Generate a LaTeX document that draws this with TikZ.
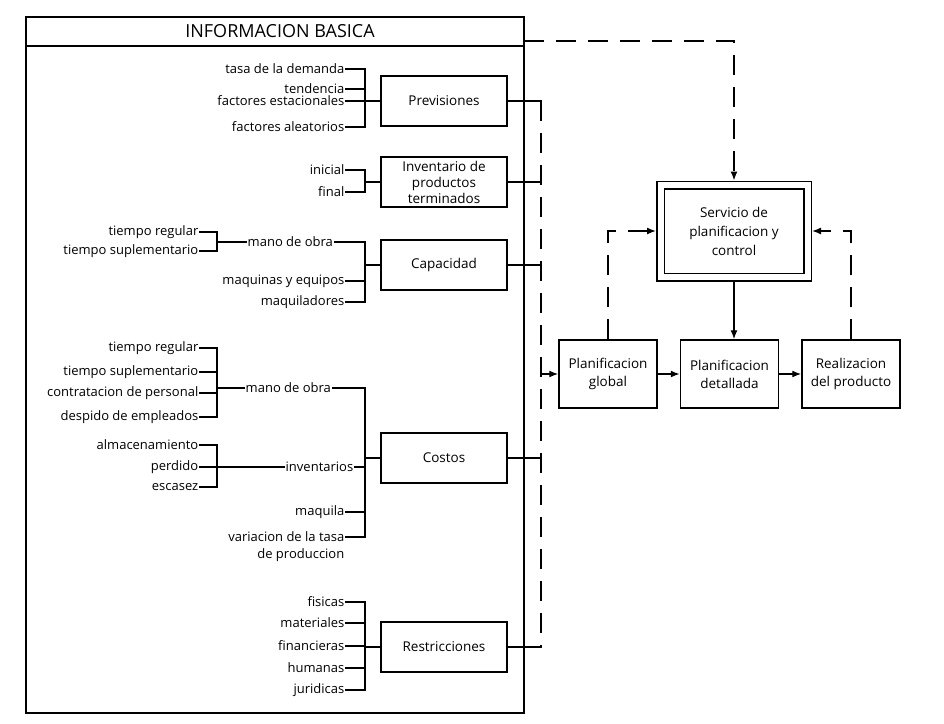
\documentclass[tikz,border=0pt]{standalone}
\usepackage{fontspec}
\setmainfont{Open Sans}
\usepackage{tikz}
\usetikzlibrary{
  arrows.meta,
  positioning,
  calc
}

\tikzset{
  caja/.style={draw, line width=1.5pt, minimum width=126pt, minimum height=50pt,
    align=center, inner sep=2pt, font=\fontsize{13.5}{16}\selectfont},
  rubro/.style={anchor=east, inner sep=1.5pt, font=\fontsize{13}{15}\selectfont},
  grupo/.style={anchor=west, inner sep=1.5pt, font=\fontsize{13}{15}\selectfont},
  liga/.style={line width=1.4pt, line cap=rect},
  flujo/.style={line width=1.4pt, dash pattern=on 20pt off 12pt},
  punta/.style={-{Latex[length=9pt,width=7pt]}}
}

\begin{document}
\begin{tikzpicture}[x=1pt,y=-1pt]
  \useasboundingbox (0,0) rectangle (944,723);

  % Draw frame of the basic information
  \draw[line width=1.6pt] (26,17) rectangle (524,713);
  \draw[line width=1.6pt] (26,46) -- (524,46);
  \node[font=\fontsize{18}{20}\selectfont] (titulo) at (280,31) {INFORMACION BASICA};
  \coordinate (info) at (524,41);

  % Columns of the brackets and of the collector
  \coordinate (llave) at (365,0);
  \coordinate (sublla) at (217,0);
  \coordinate (colector) at (541,0);

  % Draw main boxes
  \node[caja] (prev) at (444,101) {Previsiones};
  \node[caja] (inv) at (444,182) {Inventario de\\productos\\terminados};
  \node[caja] (cap) at (444,265) {Capacidad};
  \node[caja] (cost) at (444,458) {Costos};
  \node[caja] (restr) at (444,647) {Restricciones};

  % Previsiones
  \foreach \n/\txt/\y in {p1/tasa de la demanda/69, p2/tendencia/89,
      p3/factores estacionales/101, p4/factores aleatorios/127}{
    \node[rubro] (\n) at (346,\y) {\txt};
    \draw[liga] (\n.east) -- (\n.east -| llave);
  }
  \draw[liga] (p1.east -| llave) -- (p4.east -| llave);
  \draw[liga] (prev.west -| llave) -- (prev.west);

  % Inventario
  \foreach \n/\txt/\y in {i1/inicial/170, i2/final/192}{
    \node[rubro] (\n) at (346,\y) {\txt};
    \draw[liga] (\n.east) -- (\n.east -| llave);
  }
  \draw[liga] (i1.east -| llave) -- (i2.east -| llave);
  \draw[liga] (inv.west -| llave) -- (inv.west);

  % Capacidad
  \foreach \n/\txt/\y in {c1/tiempo regular/232, c2/tiempo suplementario/251}{
    \node[rubro] (\n) at (200,\y) {\txt};
    \draw[liga] (\n.east) -- (\n.east -| sublla);
  }
  \draw[liga] (c1.east -| sublla) -- (c2.east -| sublla);
  \node[grupo] (mo1) at (246,242) {mano de obra};
  \draw[liga] (mo1.west -| sublla) -- (mo1.west);
  \node[rubro] (c3) at (346,281) {maquinas y equipos};
  \node[rubro] (c4) at (346,302) {maquiladores};
  \foreach \n in {mo1,c3,c4}
    \draw[liga] (\n.east) -- (\n.east -| llave);
  \draw[liga] (mo1.east -| llave) -- (c4.east -| llave);
  \draw[liga] (cap.west -| llave) -- (cap.west);

  % Costos
  \foreach \n/\txt/\y in {k1/tiempo regular/348, k2/tiempo suplementario/372,
      k3/contratacion de personal/393, k4/despido de empleados/417}{
    \node[rubro] (\n) at (200,\y) {\txt};
    \draw[liga] (\n.east) -- (\n.east -| sublla);
  }
  \draw[liga] (k1.east -| sublla) -- (k4.east -| sublla);
  \node[grupo] (mo2) at (244,388) {mano de obra};
  \draw[liga] (mo2.west -| sublla) -- (mo2.west);
  \foreach \n/\txt/\y in {a1/almacenamiento/445, a2/perdido/467, a3/escasez/487}{
    \node[rubro] (\n) at (200,\y) {\txt};
    \draw[liga] (\n.east) -- (\n.east -| sublla);
  }
  \draw[liga] (a1.east -| sublla) -- (a3.east -| sublla);
  \node[grupo] (inv2) at (284,467) {inventarios};
  \draw[liga] (inv2.west -| sublla) -- (inv2.west);
  \node[rubro] (maq) at (346,512) {maquila};
  \node[rubro] (var) at (346,537) {variacion de la tasa};
  \node[rubro, below=3pt of var.south east, anchor=north east] (prod) {de produccion};
  \foreach \n in {mo2,inv2,maq,var}
    \draw[liga] (\n.east) -- (\n.east -| llave);
  \draw[liga] (mo2.east -| llave) -- (var.east -| llave);
  \draw[liga] (cost.west -| llave) -- (cost.west);

  % Restricciones
  \foreach \n/\txt/\y in {r1/fisicas/602, r2/materiales/623, r3/financieras/646,
      r4/humanas/668, r5/juridicas/690}{
    \node[rubro] (\n) at (346,\y) {\txt};
    \draw[liga] (\n.east) -- (\n.east -| llave);
  }
  \draw[liga] (r1.east -| llave) -- (r5.east -| llave);
  \draw[liga] (restr.west -| llave) -- (restr.west);

  % Planning boxes
  \node[caja, double, double distance=6pt, minimum width=147pt, minimum height=92pt,
    outer sep=4.5pt, font=\fontsize{13.5}{19}\selectfont] (serv) at (734,231)
    {Servicio de\\planificacion y\\control};
  \node[caja, minimum width=98pt, minimum height=68pt,
    font=\fontsize{13.5}{18}\selectfont] (glob) at (608,374) {Planificacion\\global};
  \node[caja, minimum width=98pt, minimum height=68pt,
    font=\fontsize{13.5}{18}\selectfont, right=22pt of glob] (det) {Planificacion\\detallada};
  \node[caja, minimum width=98pt, minimum height=68pt,
    font=\fontsize{13.5}{18}\selectfont, right=22pt of det] (real) {Realizacion\\del producto};

  % Collector of the basic information
  \foreach \b in {prev,inv,cap,cost,restr}
    \draw[liga] (\b.east) -- (\b.east -| colector);
  \draw[flujo] (prev.east -| colector) -- (restr.east -| colector);
  \draw[liga,punta] (glob.west -| colector) -- (glob.west);

  % Flows between the planning boxes
  \draw[liga,punta] (glob) -- (det);
  \draw[liga,punta] (det) -- (real);
  \draw[liga,punta] (serv.south) -- (serv.south |- det.north);
  \draw[flujo,punta] (info) -| (serv.north);
  \draw[flujo,punta] (glob.north) |- (serv.west);
  \draw[flujo,punta] (real.north) |- (serv.east);
\end{tikzpicture}
\end{document}
